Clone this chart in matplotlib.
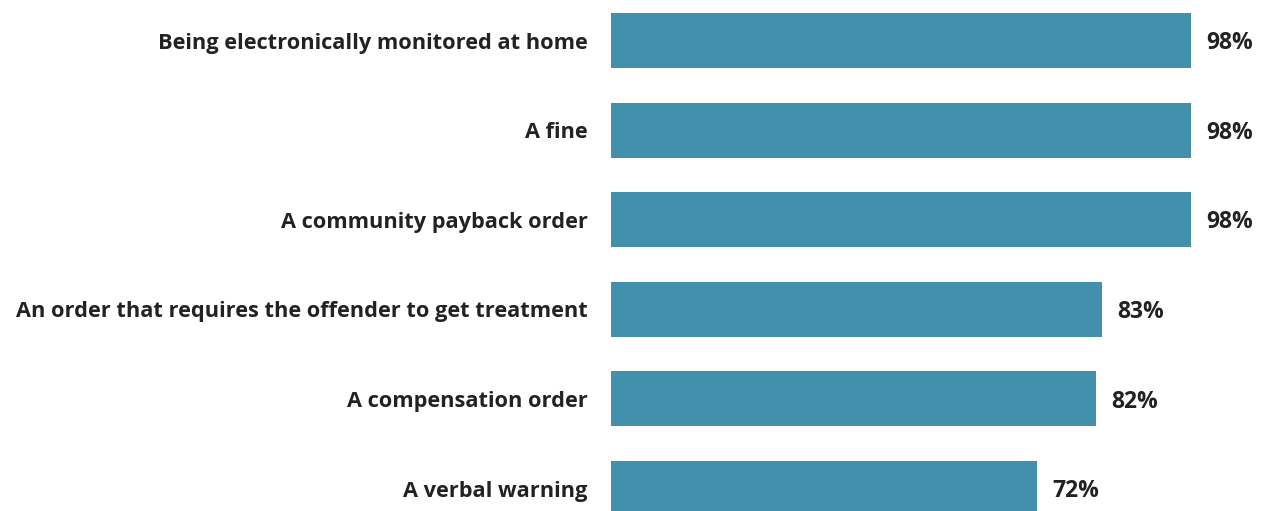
import matplotlib
matplotlib.use("Agg")
import matplotlib.pyplot as plt

# data (top to bottom)
labels = ["Being electronically monitored at home", "A fine", "A community payback order",
          "An order that requires the offender to get treatment", "A compensation order",
          "A verbal warning"]
values = [98, 98, 98, 83, 82, 72]

plt.rcParams['font.family'] = ['Open Sans', 'DejaVu Sans']
text_color = '#222222'
bar_color = '#4390ac'

fig = plt.figure(figsize=(12.62, 5.11), dpi=100)
ax = fig.add_axes([611 / 1262, 0, 651 / 1262, 1])

pos = list(range(len(labels)))
ax.barh(pos, values, height=0.615, color=bar_color)

ax.set_xlim(0, 110)
ax.set_ylim(5.251, -0.452)

ax.set_yticks(pos)
ax.set_yticklabels(labels, fontsize=15.7, fontweight='bold', color=text_color)
ax.tick_params(axis='y', length=0, pad=17)
ax.set_xticks([])
for sp in ax.spines.values():
    sp.set_visible(False)

for p, v in zip(pos, values):
    ax.text(v + 2.6, p + 0.03, f"{v}%", va='center', ha='left', fontsize=16.5,
            fontweight='bold', color=text_color)

fig.savefig("out.png", dpi=100)
